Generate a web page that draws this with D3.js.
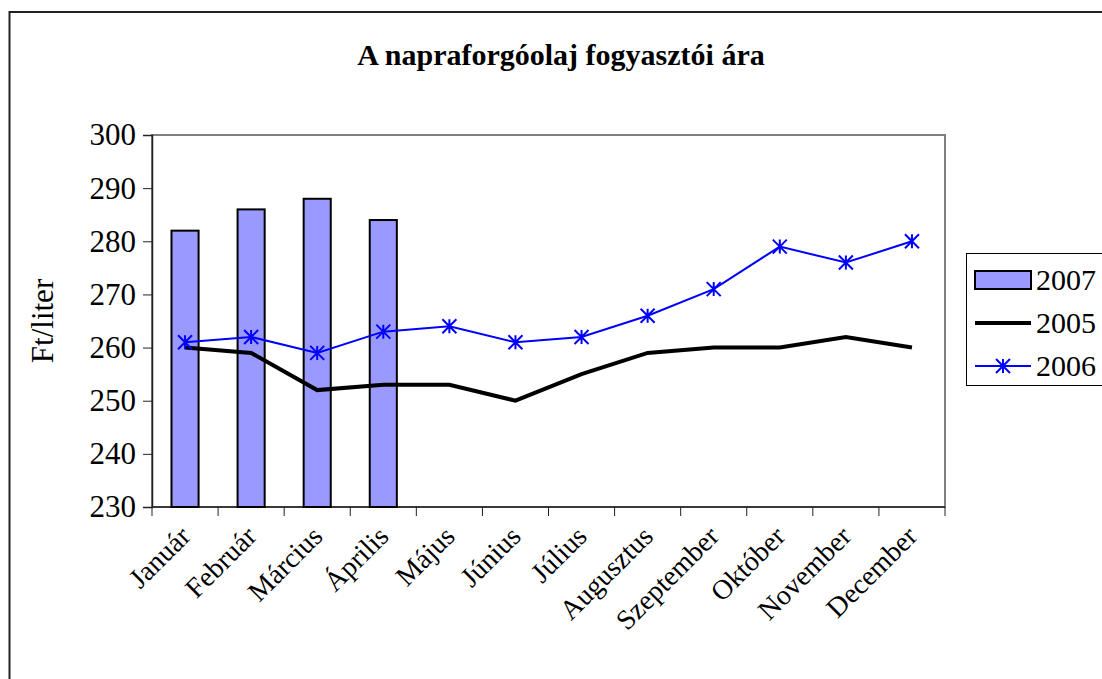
<!DOCTYPE html>
<html>
<head>
<meta charset="utf-8">
<script src="https://cdn.jsdelivr.net/npm/d3@7"></script>
<style>
body { margin: 0; background: #fff; }
text { font-family: "Liberation Serif", "Times New Roman", serif; }
</style>
</head>
<body>
<svg id="chart" width="1102" height="679"></svg>
<script>
var months = ["Január", "Február", "Március", "Április", "Május", "Június", "Július",
	"Augusztus", "Szeptember", "Október", "November", "December"];
var values2007 = [282, 286, 288, 284];
var values2005 = [260, 259, 252, 253, 253, 250, 255, 259, 260, 260, 262, 260];
var values2006 = [261, 262, 259, 263, 264, 261, 262, 266, 271, 279, 276, 280];
var yTicks = [230, 240, 250, 260, 270, 280, 290, 300];

var svg = d3.select("#chart");

// outer frame
svg.append("rect")
	.attr("x", 9.5).attr("y", 12)
	.attr("width", 1200).attr("height", 800)
	.attr("fill", "none").attr("stroke", "#222").attr("stroke-width", 2);

svg.append("text")
	.attr("x", 561).attr("y", 65)
	.attr("text-anchor", "middle")
	.style("font-size", "30px").style("font-weight", "bold")
	.text("A napraforgóolaj fogyasztói ára");

var plotLeft = 152, plotRight = 945, plotTop = 135, plotBottom = 507;

var x = d3.scaleBand().domain(months).range([plotLeft, plotRight]);
var y = d3.scaleLinear().domain([230, 300]).range([plotBottom, plotTop]);

// plot area
svg.append("rect")
	.attr("x", plotLeft).attr("y", plotTop)
	.attr("width", plotRight - plotLeft).attr("height", plotBottom - plotTop)
	.attr("fill", "#fff").attr("stroke", "#808080").attr("stroke-width", 2);

// y axis
var yAxis = svg.append("g")
	.attr("transform", "translate(" + plotLeft + ",0)")
	.call(d3.axisLeft(y).tickValues(yTicks).tickSize(9).tickPadding(7));
yAxis.select(".domain").attr("stroke", "#222").attr("stroke-width", 1.5);
yAxis.selectAll(".tick line").attr("stroke", "#222");
yAxis.selectAll("text")
	.style("font-size", "31px")
	.style("font-family", "Liberation Serif, serif")
	.attr("fill", "#000");

svg.append("text")
	.attr("transform", "translate(53," + ((plotTop + plotBottom) / 2) + ") rotate(-90)")
	.attr("text-anchor", "middle")
	.style("font-size", "31px")
	.text("Ft/liter");

// x axis, ticks sit between the months
var xAxisG = svg.append("g").attr("transform", "translate(0," + plotBottom + ")");
xAxisG.append("line")
	.attr("x1", plotLeft).attr("x2", plotRight)
	.attr("stroke", "#222").attr("stroke-width", 1.5);
xAxisG.selectAll(".xt")
	.data(months.concat(["end"]))
	.enter().append("line")
	.attr("x1", function(d, i) { return plotLeft + i * x.step(); })
	.attr("x2", function(d, i) { return plotLeft + i * x.step(); })
	.attr("y1", 0).attr("y2", 9)
	.attr("stroke", "#222");
xAxisG.selectAll(".xl")
	.data(months)
	.enter().append("text")
	.attr("text-anchor", "end")
	.attr("transform", function(d) {
		return "translate(" + (x(d) + x.bandwidth() / 2 + 7) + ",31) rotate(-45)";
	})
	.style("font-size", "28px")
	.text(function(d) { return d; });

// bars 2007
var bw = x.bandwidth() * 0.41;
svg.selectAll(".bar")
	.data(values2007)
	.enter().append("rect")
	.attr("x", function(d, i) { return x(months[i]) + x.bandwidth() / 2 - bw / 2; })
	.attr("y", function(d) { return y(d); })
	.attr("width", bw)
	.attr("height", function(d) { return plotBottom - y(d); })
	.attr("fill", "#9999FF").attr("stroke", "#000").attr("stroke-width", 2);

var cx = function(d, i) { return x(months[i]) + x.bandwidth() / 2; };

var line = d3.line()
	.x(cx)
	.y(function(d) { return y(d); });

svg.append("path")
	.datum(values2005)
	.attr("d", line)
	.attr("fill", "none").attr("stroke", "#000").attr("stroke-width", 4);

svg.append("path")
	.datum(values2006)
	.attr("d", line)
	.attr("fill", "none").attr("stroke", "#0000FF").attr("stroke-width", 2);

var starPath = function(s) {
	return "M0," + (-s) + "V" + s +
		"M" + (-s) + "," + (-s) + "L" + s + "," + s +
		"M" + (-s) + "," + s + "L" + s + "," + (-s);
};

svg.selectAll(".star")
	.data(values2006)
	.enter().append("path")
	.attr("transform", function(d, i) { return "translate(" + cx(d, i) + "," + y(d) + ")"; })
	.attr("d", starPath(7))
	.attr("fill", "none").attr("stroke", "#0000FF").attr("stroke-width", 2);

// legend
var lg = svg.append("g");
lg.append("rect")
	.attr("x", 966.5).attr("y", 253.5).attr("width", 140).attr("height", 132)
	.attr("fill", "#fff").attr("stroke", "#000").attr("stroke-width", 1);
var legendItems = ["2007", "2005", "2006"];
legendItems.forEach(function(name, i) {
	var ly = 280 + i * 43;
	if (i == 0) {
		lg.append("rect")
			.attr("x", 975).attr("y", ly - 9).attr("width", 56).attr("height", 18)
			.attr("fill", "#9999FF").attr("stroke", "#000").attr("stroke-width", 2);
	} else if (i == 1) {
		lg.append("line")
			.attr("x1", 975).attr("x2", 1031).attr("y1", ly).attr("y2", ly)
			.attr("stroke", "#000").attr("stroke-width", 4);
	} else {
		lg.append("line")
			.attr("x1", 975).attr("x2", 1031).attr("y1", ly).attr("y2", ly)
			.attr("stroke", "#0000FF").attr("stroke-width", 2);
		lg.append("path")
			.attr("transform", "translate(1003," + ly + ")")
			.attr("d", starPath(7))
			.attr("fill", "none").attr("stroke", "#0000FF").attr("stroke-width", 2);
	}
	lg.append("text")
		.attr("x", 1036).attr("y", ly + 10)
		.style("font-size", "30px")
		.text(name);
});
</script>
</body>
</html>
